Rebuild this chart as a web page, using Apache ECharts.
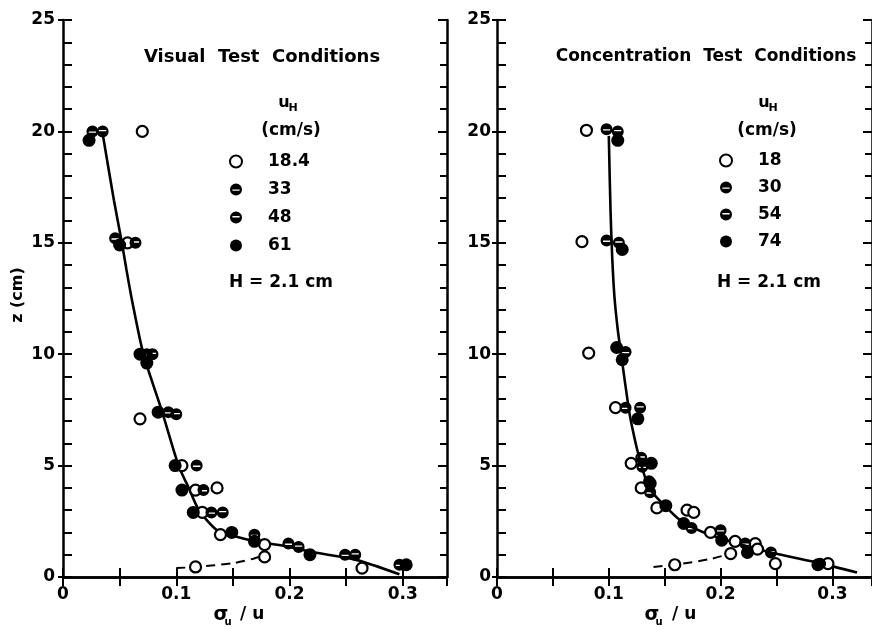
<!DOCTYPE html>
<html><head><meta charset="utf-8">
<script src="https://cdn.jsdelivr.net/npm/echarts@6/dist/echarts.min.js"></script>
<style>html,body{margin:0;padding:0;background:#fff}#c{width:872px;height:630px}</style>
</head><body><div id="c"></div>
<script>
// ---------- data (sigma_u/u , z in cm) ----------
const visualNames = ['18.4', '33', '48', '61'];
const concNames = ['18', '30', '54', '74'];

const vis18 = [[0.070,20.0],[0.057,15.0],[0.068,7.1],[0.105,5.0],[0.117,3.9],[0.136,4.0],[0.123,2.9],[0.139,1.9],[0.178,1.45],[0.178,0.9],[0.117,0.45],[0.264,0.4]];
const vis33 = [[0.026,20.0],[0.046,15.2],[0.074,10.0],[0.093,7.4],[0.118,5.0],[0.124,3.9],[0.131,2.9],[0.169,1.9],[0.199,1.5],[0.249,1.0],[0.297,0.55]];
const vis48 = [[0.035,20.0],[0.064,15.0],[0.079,10.0],[0.100,7.3],[0.141,2.9],[0.208,1.35],[0.258,1.0]];
const vis61 = [[0.023,19.6],[0.050,14.9],[0.068,10.0],[0.074,9.6],[0.084,7.4],[0.099,5.0],[0.105,3.9],[0.115,2.9],[0.149,2.0],[0.169,1.6],[0.218,1.0],[0.303,0.55]];
const visFit = [[0.035,19.9],[0.045,16.9],[0.052,15.0],[0.056,13.8],[0.061,12.4],[0.071,10.0],[0.087,7.5],[0.102,5.0],[0.111,4.0],[0.120,3.0],[0.136,2.1],[0.150,1.85],[0.170,1.6],[0.200,1.35],[0.220,1.12],[0.258,0.78],[0.297,0.12]];
const visLow = [[0.100,0.40],[0.117,0.45],[0.150,0.62],[0.168,0.82],[0.178,1.0]];

const con18 = [[0.080,20.05],[0.076,15.05],[0.082,10.05],[0.106,7.6],[0.120,5.1],[0.129,4.0],[0.143,3.1],[0.170,3.0],[0.176,2.9],[0.191,2.0],[0.213,1.6],[0.231,1.5],[0.233,1.25],[0.249,0.6],[0.159,0.55],[0.209,1.05],[0.296,0.6]];
const con30 = [[0.098,20.1],[0.098,15.1],[0.115,10.1],[0.115,7.6],[0.130,4.95],[0.137,3.8],[0.174,2.2],[0.200,2.1],[0.222,1.5]];
const con54 = [[0.108,20.0],[0.109,15.0],[0.128,7.6],[0.129,5.35],[0.136,4.3],[0.245,1.1],[0.289,0.6]];
const con74 = [[0.108,19.6],[0.112,14.7],[0.107,10.3],[0.112,9.75],[0.126,7.1],[0.138,5.1],[0.137,4.2],[0.151,3.2],[0.167,2.4],[0.201,1.65],[0.224,1.1],[0.287,0.55]];
const conFit = [[0.100,19.8],[0.1015,16.5],[0.103,14.4],[0.105,12.6],[0.108,11.1],[0.111,10.0],[0.118,7.5],[0.121,6.7],[0.126,5.6],[0.136,4.0],[0.150,3.2],[0.165,2.5],[0.185,2.0],[0.215,1.5],[0.245,1.1],[0.290,0.6],[0.322,0.2]];
const conLow = [[0.140,0.45],[0.159,0.55],[0.190,0.8],[0.209,1.05]];

const yTickStep = 5;
const xTickStep = 0.05;

// ---------- styling ----------
const FONT = '"DejaVu Sans", sans-serif';
const HALF_A = 'path://M0,-1A1,1 0 0 1 1,0A1,1 0 0 1 0,1A1,1 0 0 1 -1,0A1,1 0 0 1 0,-1Z M-0.6,0.0L-0.6,0.22L0.6,0.22L0.6,0.0Z';
const HALF_B = 'path://M0,-1A1,1 0 0 1 1,0A1,1 0 0 1 0,1A1,1 0 0 1 -1,0A1,1 0 0 1 0,-1Z M-0.6,-0.24L-0.6,-0.02L0.6,-0.02L0.6,-0.24Z';

function xLab(v){ const r = Math.round(v*100); if (r % 10 !== 0) return ''; return r === 0 ? '0' : (r/100).toFixed(1); }

function xAxes(grid, max){
  const base = {type:'value', gridIndex:grid, min:0, max:max, interval:xTickStep, splitLine:{show:false},
    axisLine:{show:true, lineStyle:{color:'#000', width:2.5}},
    axisTick:{show:true, inside:true, length:9, lineStyle:{color:'#000', width:2}}};
  return [
    Object.assign({}, base, {position:'bottom', axisLabel:{show:true, formatter:xLab, margin:9, color:'#000', fontFamily:FONT, fontWeight:'bold', fontSize:17, showMaxLabel:false}}),
    Object.assign({}, base, {position:'top', axisLabel:{show:false}})
  ];
}
function yAxes(grid, labelMargin){
  const common = {type:'value', gridIndex:grid, min:0, max:25, interval:yTickStep, splitLine:{show:false}};
  return [
    Object.assign({}, common, {position:'left', axisLine:{show:true, lineStyle:{color:'#000', width:2.5}},
      axisTick:{show:true, inside:false, length:5, lineStyle:{color:'#000', width:2}},
      axisLabel:{show:true, margin:labelMargin, color:'#000', fontFamily:FONT, fontWeight:'bold', fontSize:17}}),
    Object.assign({}, common, {position:'left', axisLine:{show:false},
      axisTick:{show:true, inside:true, length:9, lineStyle:{color:'#000', width:2}},
      minorTick:{show:true, splitNumber:5, length:9, lineStyle:{color:'#000', width:2}},
      axisLabel:{show:false}}),
    Object.assign({}, common, {position:'right', axisLine:{show:true, lineStyle:{color:'#000', width:2.5}},
      axisTick:{show:true, inside:true, length:9, lineStyle:{color:'#000', width:2}},
      minorTick:{show:true, splitNumber:5, length:7, lineStyle:{color:'#000', width:2}},
      axisLabel:{show:false}})
  ];
}

function scatter(name, data, xi, yi, kind){
  const s = {type:'scatter', name:name, data:data, xAxisIndex:xi, yAxisIndex:yi, z:4};
  if (kind === 'open'){ s.symbol='circle'; s.symbolSize=11; s.itemStyle={color:'#fff', borderColor:'#000', borderWidth:2.2, opacity:1}; }
  else if (kind === 'a'){ s.symbol=HALF_A; s.symbolSize=12; s.itemStyle={color:'#000', opacity:1}; }
  else if (kind === 'b'){ s.symbol=HALF_B; s.symbolSize=12; s.itemStyle={color:'#000', opacity:1}; }
  else { s.symbol='circle'; s.symbolSize=13; s.itemStyle={color:'#000', opacity:1}; }
  return s;
}
function line(data, xi, yi, dashed){
  return {type:'line', data:data, xAxisIndex:xi, yAxisIndex:yi, symbol:'none', smooth:0.25, silent:true, z:3,
    lineStyle:{color:'#000', width: dashed ? 2 : 2.6, type: dashed ? [9,6] : 'solid'}};
}
function legend(names, left, top, pitch){
  return {data:names, orient:'vertical', left:left, top:top, itemWidth:12, itemHeight:12, itemGap:pitch-17,
    selectedMode:false, textStyle:{color:'#000', fontFamily:FONT, fontWeight:'bold', fontSize:17, padding:[0,0,0,21]}};
}
function txt(x, y, s, size, extra){
  return {type:'text', x:x, y:y, style:Object.assign({text:s, fill:'#000', font:'bold '+size+'px '+FONT, textAlign:'center', textVerticalAlign:'middle'}, extra||{})};
}

const chart = echarts.init(document.getElementById('c'), null, {renderer:'canvas'});
chart.setOption({
  backgroundColor:'#fff',
  animation:false,
  grid:[
    {left:63, top:20, width:384, height:557},
    {left:497, top:20, width:378, height:557}
  ],
  xAxis: xAxes(0, 0.339).concat(xAxes(1, 0.3354)),
  yAxis: yAxes(0, 8).concat(yAxes(1, 6)),
  legend:[ legend(visualNames, 224, 148, 28), legend(concNames, 714, 147, 27) ],
  series:[
    line(visFit, 0, 0, false), line(visLow, 0, 0, true),
    scatter('18.4', vis18, 0, 0, 'open'), scatter('33', vis33, 0, 0, 'a'),
    scatter('48', vis48, 0, 0, 'b'), scatter('61', vis61, 0, 0, 'full'),
    line(conFit, 2, 3, false), line(conLow, 2, 3, true),
    scatter('18', con18, 2, 3, 'open'), scatter('30', con30, 2, 3, 'a'),
    scatter('54', con54, 2, 3, 'b'), scatter('74', con74, 2, 3, 'full')
  ],
  graphic:[
    txt(262, 57, 'Visual  Test  Conditions', 18),
    txt(706, 57, 'Concentration  Test  Conditions', 17),
    txt(284, 103, 'u', 16), txt(293, 108, 'H', 11),
    txt(291, 131, '(cm/s)', 17),
    txt(281, 283, 'H = 2.1 cm', 17),
    txt(764, 103, 'u', 16), txt(773, 108, 'H', 11),
    txt(767, 131, '(cm/s)', 17),
    txt(769, 283, 'H = 2.1 cm', 17),
    {type:'text', x:18, y:295, rotation:Math.PI/2, style:{text:'z (cm)', fill:'#000', font:'bold 16px '+FONT, textAlign:'center', textVerticalAlign:'middle'}},
    txt(221, 615, 'σ', 19), txt(228, 622, 'u', 10), txt(240, 615, '/ u', 17, {textAlign:'left'}),
    txt(652, 615, 'σ', 19), txt(659, 622, 'u', 10), txt(672, 615, '/ u', 17, {textAlign:'left'})
  ]
});
</script></body></html>
